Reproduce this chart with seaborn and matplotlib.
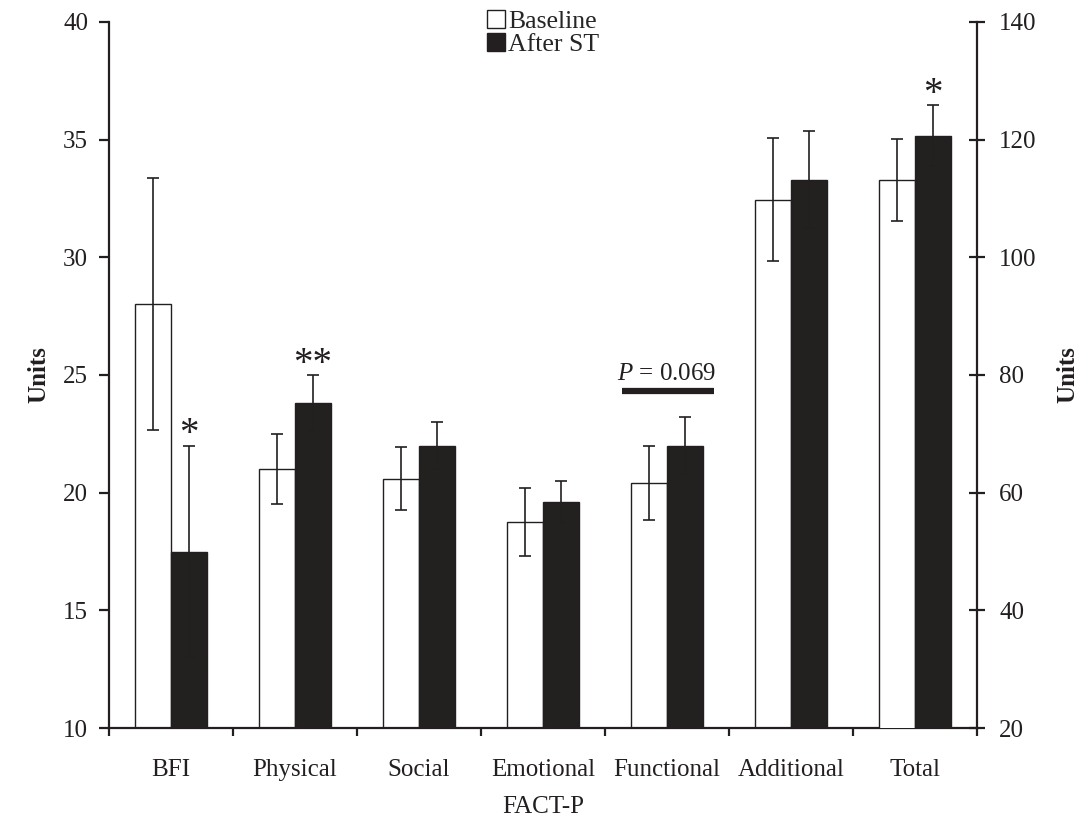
import matplotlib
matplotlib.use("Agg")
import matplotlib.pyplot as plt
import seaborn as sns
import pandas as pd
from matplotlib.patches import Patch

# data
categories = ['BFI', 'Physical', 'Social', 'Emotional', 'Functional', 'Additional', 'Total']
baseline = [28.0, 21.0, 20.6, 18.75, 20.4, 32.45, 113.1]
after_st = [17.5, 23.8, 22.0, 19.6, 22.0, 33.3, 120.7]
baseline_err = [5.35, 1.5, 1.35, 1.45, 1.57, 2.6, 7.0]
after_err = [4.5, 1.2, 1.0, 0.9, 1.2, 2.05, 5.2]
groups = ['Baseline', 'After ST']
# significance marks: (category, group, text)
marks = [('BFI', 'After ST', '*'), ('Physical', 'After ST', '**'), ('Total', 'After ST', '*')]

DARK = '#231f20'
BAR_W = 0.58
FS = 18

rows = []
for i, c in enumerate(categories):
    rows.append({'cat': c, 'group': 'Baseline', 'value': baseline[i], 'err': baseline_err[i]})
    rows.append({'cat': c, 'group': 'After ST', 'value': after_st[i], 'err': after_err[i]})
df = pd.DataFrame(rows)
left_df = df[df['cat'] != 'Total']
right_df = df[df['cat'] == 'Total']

sns.set_style('ticks')
plt.rcParams['font.family'] = ['Liberation Serif', 'DejaVu Serif']
plt.rcParams['mathtext.fontset'] = 'custom'
plt.rcParams['mathtext.it'] = 'Liberation Serif:italic'
plt.rcParams['mathtext.rm'] = 'Liberation Serif'

fig, ax = plt.subplots(figsize=(10.79, 8.23), dpi=100)
fig.subplots_adjust(left=0.101, right=0.9055, top=0.9733, bottom=0.1154)
ax2 = ax.twinx()

palette = {'Baseline': 'white', 'After ST': DARK}
sns.barplot(data=left_df, x='cat', y='value', hue='group', order=categories,
            hue_order=groups, palette=palette, edgecolor=DARK, linewidth=1,
            width=BAR_W, ax=ax, legend=False, errorbar=None)
sns.barplot(data=right_df, x='cat', y='value', hue='group', order=categories,
            hue_order=groups, palette=palette, edgecolor=DARK, linewidth=1,
            width=BAR_W, ax=ax2, legend=False, errorbar=None)


def xpos(cat, group):
    i = categories.index(cat)
    off = BAR_W / 4
    return i - off if group == 'Baseline' else i + off


for _, r in df.iterrows():
    target = ax2 if r['cat'] == 'Total' else ax
    target.errorbar(xpos(r['cat'], r['group']), r['value'], yerr=r['err'],
                    fmt='none', ecolor=DARK, elinewidth=1.2, capsize=4,
                    capthick=1.2, zorder=5)

# significance asterisks, placed a fixed distance above the error bar cap
for cat, group, txt in marks:
    sub = df[(df['cat'] == cat) & (df['group'] == group)].iloc[0]
    target = ax2 if cat == 'Total' else ax
    top = sub['value'] + sub['err']
    target.annotate(txt, (xpos(cat, group), top), xytext=(0, 1),
                    textcoords='offset points', ha='center', va='baseline',
                    fontsize=28, color=DARK)

# P value over Functional
fi = categories.index('Functional')
ax.plot([fi - 0.36, fi + 0.38], [24.3, 24.3], color=DARK, lw=4.5, solid_capstyle='butt')
ax.text(fi, 25.05, r'$P$ = 0.069', ha='center', va='center', fontsize=FS, color=DARK)

ax.set_ylim(10, 40)
ax.set_yticks(range(10, 41, 5))
ax2.set_ylim(20, 140)
ax2.set_yticks(range(20, 141, 20))
ax.set_xlim(-0.5, len(categories) - 0.5)
ax2.set_xlim(-0.5, len(categories) - 0.5)

for a in (ax, ax2):
    a.spines['top'].set_visible(False)
    for s in a.spines.values():
        s.set_linewidth(1.6)
        s.set_color(DARK)
ax.spines['right'].set_visible(False)
ax2.spines['left'].set_visible(False)
ax2.spines['bottom'].set_visible(False)

ax.tick_params(axis='y', direction='out', length=7, width=1.6, labelsize=FS, pad=8, colors=DARK)
ax2.tick_params(axis='y', direction='inout', length=12, width=1.6, labelsize=FS, pad=10, colors=DARK)
ax.tick_params(axis='x', which='major', length=0, labelsize=FS, pad=22, colors=DARK)
ax.set_xticks([i + 0.5 for i in range(-1, len(categories))], minor=True)
ax.tick_params(axis='x', which='minor', direction='out', length=6, width=1.6, color=DARK)
ax2.tick_params(axis='x', which='both', length=0, labelbottom=False)

ax.set_xlabel('FACT-P', fontsize=FS, labelpad=11, color=DARK)
ax.set_ylabel('Units', fontsize=18, fontweight='bold', labelpad=9, color=DARK)
ax2.set_ylabel('Units', fontsize=18, fontweight='bold', labelpad=14, color=DARK)
ax2.set_xlabel('')

handles = [Patch(facecolor='white', edgecolor=DARK, linewidth=1),
           Patch(facecolor=DARK, edgecolor=DARK, linewidth=1)]
ax2.legend(handles, groups, loc='upper center', bbox_to_anchor=(0.5, 1.035),
           frameon=False, fontsize=18.5, handlelength=0.7, handleheight=0.7,
           handletextpad=0.15, labelspacing=0.0, borderpad=0)

plt.savefig('out.png', dpi=100)
plt.close()
